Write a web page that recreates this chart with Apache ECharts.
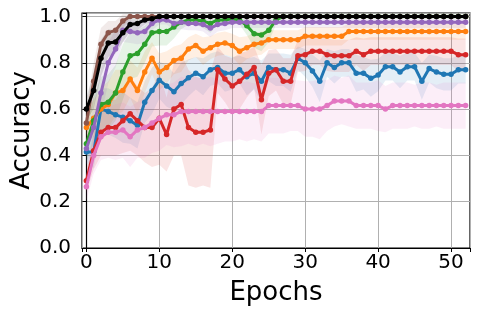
<!DOCTYPE html>
<html><head><meta charset="utf-8">
<script src="https://cdn.jsdelivr.net/npm/echarts@6/dist/echarts.min.js"></script>
<style>html,body{margin:0;padding:0;background:#fff}#c{width:478px;height:317px}</style>
</head><body><div id="c"></div>
<script>
const epochs = [0,1,2,3,4,5,6,7,8,9,10,11,12,13,14,15,16,17,18,19,20,21,22,23,24,25,26,27,28,29,30,31,32,33,34,35,36,37,38,39,40,41,42,43,44,45,46,47,48,49,50,51,52];
const xTicks = [0,10,20,30,40,50];
const yTicks = [0.0,0.2,0.4,0.6,0.8,1.0];

const blue = [0.415,0.415,0.6,0.59,0.575,0.565,0.55,0.53,0.63,0.68,0.725,0.7,0.675,0.71,0.735,0.755,0.74,0.77,0.78,0.755,0.755,0.77,0.74,0.755,0.72,0.78,0.77,0.77,0.755,0.82,0.8,0.765,0.72,0.8,0.78,0.8,0.8,0.755,0.755,0.733,0.747,0.783,0.783,0.76,0.783,0.783,0.72,0.775,0.76,0.75,0.75,0.77,0.77];
const orange = [0.52,0.56,0.6,0.62,0.67,0.68,0.73,0.68,0.76,0.82,0.76,0.78,0.81,0.82,0.86,0.875,0.85,0.865,0.88,0.885,0.875,0.85,0.865,0.88,0.885,0.9,0.9,0.9,0.9,0.9,0.915,0.915,0.915,0.915,0.915,0.915,0.935,0.935,0.935,0.935,0.935,0.935,0.935,0.935,0.935,0.935,0.935,0.935,0.935,0.935,0.935,0.935,0.935];
const green = [0.45,0.55,0.62,0.63,0.67,0.76,0.83,0.84,0.88,0.93,0.935,0.935,0.955,0.975,0.985,0.985,0.98,0.97,0.985,0.985,0.99,0.985,0.96,0.925,0.92,0.94,0.985,1,1,1,1,1,1,1,1,1,1,1,1,1,1,1,1,1,1,1,1,1,1,1,1,1,1];
const red = [0.29,0.42,0.5,0.52,0.52,0.55,0.58,0.55,0.52,0.52,0.56,0.49,0.6,0.62,0.52,0.5,0.5,0.51,0.77,0.73,0.7,0.72,0.75,0.78,0.64,0.755,0.77,0.72,0.72,0.83,0.835,0.85,0.85,0.835,0.83,0.83,0.83,0.85,0.835,0.85,0.85,0.85,0.85,0.85,0.85,0.85,0.85,0.85,0.85,0.85,0.85,0.835,0.835];
const purple = [0.43,0.52,0.67,0.8,0.86,0.94,0.935,0.93,0.935,0.97,0.985,0.985,0.97,0.975,0.97,0.97,0.965,0.95,0.965,0.97,0.975,0.975,0.975,0.975,0.975,0.975,0.975,0.975,0.975,0.975,0.975,0.975,0.975,0.975,0.975,0.975,0.975,0.975,0.975,0.975,0.975,0.975,0.975,0.975,0.975,0.975,0.975,0.975,0.975,0.975,0.975,0.975,0.975];
const brown = [0.54,0.72,0.88,0.93,0.94,0.98,1,1,1,1,1,1,1,1,1,1,1,1,1,1,1,1,1,1,1,1,1,1,1,1,1,1,1,1,1,1,1,1,1,1,1,1,1,1,1,1,1,1,1,1,1,1,1];
const pink = [0.265,0.4,0.48,0.5,0.5,0.51,0.48,0.51,0.52,0.54,0.56,0.575,0.575,0.59,0.59,0.59,0.59,0.59,0.59,0.59,0.59,0.59,0.59,0.59,0.59,0.615,0.615,0.615,0.615,0.615,0.6,0.6,0.6,0.615,0.635,0.635,0.635,0.615,0.615,0.615,0.615,0.6,0.615,0.615,0.615,0.615,0.615,0.615,0.615,0.615,0.615,0.615,0.615];
const black = [0.6,0.68,0.82,0.885,0.89,0.93,0.965,0.97,0.985,0.99,1,1,1,1,1,1,1,1,1,1,1,1,1,1,1,1,1,1,1,1,1,1,1,1,1,1,1,1,1,1,1,1,1,1,1,1,1,1,1,1,1,1,1];

const blueStd = [0.05,0.07,0.09,0.1,0.1,0.11,0.1,0.1,0.09,0.1,0.08,0.09,0.08,0.09,0.08,0.07,0.08,0.07,0.07,0.08,0.07,0.06,0.08,0.07,0.09,0.06,0.07,0.07,0.08,0.05,0.06,0.07,0.09,0.06,0.07,0.06,0.06,0.08,0.07,0.08,0.07,0.06,0.06,0.07,0.06,0.06,0.08,0.06,0.07,0.07,0.07,0.06,0.06];
const orangeStd = [0.06,0.08,0.09,0.1,0.1,0.09,0.08,0.1,0.09,0.07,0.08,0.07,0.06,0.06,0.05,0.05,0.06,0.05,0.05,0.05,0.05,0.06,0.05,0.05,0.05,0.04,0.04,0.04,0.04,0.04,0.04,0.04,0.04,0.04,0.04,0.04,0.035,0.035,0.035,0.035,0.035,0.035,0.035,0.035,0.035,0.035,0.035,0.035,0.035,0.035,0.035,0.035,0.035];
const greenStd = [0.08,0.1,0.12,0.12,0.12,0.12,0.1,0.1,0.08,0.06,0.06,0.06,0.05,0.03,0.02,0.02,0.03,0.04,0.02,0.02,0.02,0.02,0.04,0.06,0.07,0.05,0.02,0.01,0.01,0.01,0.01,0.01,0.01,0.01,0.01,0.01,0.01,0.01,0.01,0.01,0.01,0.01,0.01,0.01,0.01,0.01,0.01,0.01,0.01,0.01,0.01,0.01,0.01];
const redStd = [0.05,0.08,0.1,0.12,0.12,0.14,0.16,0.15,0.15,0.17,0.2,0.16,0.2,0.22,0.25,0.24,0.23,0.25,0.1,0.1,0.12,0.12,0.1,0.09,0.15,0.1,0.09,0.1,0.1,0.07,0.07,0.06,0.06,0.07,0.07,0.07,0.07,0.06,0.07,0.06,0.06,0.06,0.06,0.06,0.06,0.06,0.06,0.06,0.06,0.06,0.06,0.07,0.07];
const purpleStd = [0.07,0.09,0.1,0.09,0.08,0.05,0.05,0.05,0.05,0.03,0.02,0.02,0.03,0.03,0.03,0.03,0.03,0.04,0.03,0.03,0.025,0.025,0.025,0.025,0.025,0.025,0.025,0.025,0.025,0.025,0.025,0.025,0.025,0.025,0.025,0.025,0.025,0.025,0.025,0.025,0.025,0.025,0.025,0.025,0.025,0.025,0.025,0.025,0.025,0.025,0.025,0.025,0.025];
const brownStd = [0.06,0.08,0.07,0.05,0.04,0.03,0.01,0,0,0,0,0,0,0,0,0,0,0,0,0,0,0,0,0,0,0,0,0,0,0,0,0,0,0,0,0,0,0,0,0,0,0,0,0,0,0,0,0,0,0,0,0,0];
const pinkStd = [0.06,0.08,0.1,0.11,0.12,0.12,0.13,0.12,0.13,0.13,0.14,0.13,0.14,0.15,0.14,0.15,0.14,0.15,0.14,0.13,0.13,0.12,0.13,0.12,0.13,0.12,0.12,0.12,0.11,0.11,0.12,0.12,0.13,0.11,0.11,0.1,0.11,0.1,0.1,0.1,0.11,0.1,0.1,0.1,0.1,0.09,0.1,0.1,0.09,0.1,0.1,0.1,0.1];
const blackStd = [0.05,0.08,0.08,0.06,0.05,0.04,0.03,0.03,0.02,0.01,0,0,0,0,0,0,0,0,0,0,0,0,0,0,0,0,0,0,0,0,0,0,0,0,0,0,0,0,0,0,0,0,0,0,0,0,0,0,0,0,0,0,0];

const means = [blue, orange, green, red, purple, brown, pink, black];
const stds = [blueStd, orangeStd, greenStd, redStd, purpleStd, brownStd, pinkStd, blackStd];
const colors = ['#1f77b4','#ff7f0e','#2ca02c','#d62728','#9467bd','#8c564b','#e377c2','#000000'];

const series = [];
means.forEach((m, i) => {
  const s = stds[i];
  const rows = epochs.map((e,j)=>[e, m[j]-s[j], m[j]+s[j]]);
  series.push({
    type:'custom', silent:true, z:1,
    data: rows,
    encode:{x:0, y:[1,2]},
    renderItem: (params, api) => {
      if (params.dataIndex !== 0) return null;
      const upper = rows.map(r => api.coord([r[0], r[2]]));
      const lower = rows.map(r => api.coord([r[0], r[1]])).reverse();
      const cs = params.coordSys;
      return {
        type:'polygon',
        shape:{points: upper.concat(lower)},
        style:{fill: colors[i], opacity:0.12},
        clipPath:{type:'rect', shape:{x:cs.x, y:cs.y, width:cs.width, height:cs.height}}
      };
    }
  });
});
means.forEach((m, i) => {
  series.push({type:'line', data: epochs.map((e,j)=>[e, m[j]]), symbol:'circle', symbolSize:5.5, showSymbol:true,
    lineStyle:{color:colors[i], width:3}, itemStyle:{color:colors[i]}, z:3+i});
});

const font = 'DejaVu Sans';
const chart = echarts.init(document.getElementById('c'));
chart.setOption({
  animation:false,
  grid:{left:82, right:8, top:13, bottom:69, show:true, borderColor:'#000', borderWidth:1.2, backgroundColor:'transparent', outerBoundsMode:'none', containLabel:false},
  xAxis:{type:'value', min:-0.6, max:52.6, splitNumber:5,
    name:'Epochs', nameLocation:'middle', nameGap:32, nameMoveOverlap:false, nameTextStyle:{fontFamily:font, fontSize:26, color:'#000'},
    axisLine:{lineStyle:{color:'#000', width:1.2}},
    axisTick:{show:true, length:4, lineStyle:{color:'#000'}},
    axisLabel:{fontFamily:font, fontSize:20, color:'#000', margin:5,
      formatter:v => xTicks.some(t=>Math.abs(t-v)<1e-6) ? String(Math.round(v)) : ''},
    splitLine:{show:true, lineStyle:{color:'#b0b0b0', width:1}}},
  yAxis:{type:'value', min:0, max:1.015, interval:0.2,
    name:'Accuracy', nameLocation:'middle', nameGap:47, nameMoveOverlap:false, nameTextStyle:{fontFamily:font, fontSize:26, color:'#000'},
    axisLine:{show:true, lineStyle:{color:'#000', width:1.2}},
    axisTick:{show:true, length:4, lineStyle:{color:'#000'}},
    axisLabel:{fontFamily:font, fontSize:20, color:'#000', margin:11,
      formatter:v => { const t = yTicks.find(t=>Math.abs(t-v)<1e-6); return t===undefined ? '' : t.toFixed(1); }},
    splitLine:{show:true, lineStyle:{color:'#b0b0b0', width:1}}},
  series: series
});
</script></body></html>
